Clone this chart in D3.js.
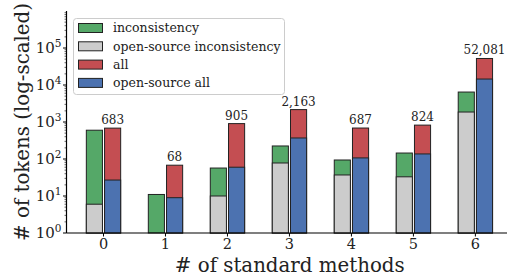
<!DOCTYPE html>
<html><head><meta charset="utf-8">
<script src="https://cdn.jsdelivr.net/npm/d3@7"></script>
<style>body{margin:0;background:#fff}svg{display:block}</style>
</head><body><svg id="c" width="510" height="279" font-family="'DejaVu Serif', 'Liberation Serif', serif"></svg>
<script>
const categories = [0, 1, 2, 3, 4, 5, 6];
const inconsistency = [600, 11, 57, 225, 94, 145, 6450];
const osInconsistency = [6, null, 10, 78, 37, 33, 1860];
const allTokens = [683, 68, 905, 2163, 687, 824, 52081];
const osAll = [27, 9, 60, 370, 107, 137, 14500];
const yTicks = [0, 1, 2, 3, 4, 5];
const legendLabels = ["inconsistency", "open-source inconsistency", "all", "open-source all"];
const colors = {green: "#55a868", gray: "#cccccc", red: "#c44e52", blue: "#4c72b0"};

const svg = d3.select("#c");
const L = 66.5, R = 507, T = 11, B = 233;
const x = d3.scaleLinear().domain([-0.597, 6.51]).range([L, R]);
const y = d3.scaleLog().domain([1, 1e6]).range([B, T]);
const bw = 0.26, off = 0.147;

function bars(vals, o, color) {
  svg.append("g").selectAll("rect").data(categories.filter((c, i) => vals[i] != null && vals[i] > 1))
    .join("rect")
    .attr("x", c => x(c + o - bw / 2))
    .attr("width", x(bw) - x(0))
    .attr("y", c => y(vals[c]))
    .attr("height", c => B - y(vals[c]))
    .attr("fill", color).attr("stroke", "#222").attr("stroke-width", 1);
}
bars(inconsistency, -off, colors.green);
bars(osInconsistency, -off, colors.gray);
bars(allTokens, off, colors.red);
bars(osAll, off, colors.blue);

// value labels
svg.append("g").selectAll("text").data(categories).join("text")
  .attr("x", c => x(c + off)).attr("y", c => y(allTokens[c]) - 4)
  .attr("text-anchor", "middle").attr("font-size", 12).attr("fill", "#222")
  .text(c => d3.format(",")(allTokens[c]));

// y axis
const ya = svg.append("g");
ya.append("line").attr("x1", L).attr("x2", L).attr("y1", T).attr("y2", B).attr("stroke", "#000").attr("stroke-width", 1.2);
for (let d = 0; d < 6; d++) {
  for (let m = 2; m <= 9; m++) {
    const v = m * Math.pow(10, d);
    if (y(v) < T) continue;
    ya.append("line").attr("x1", L - 2).attr("x2", L).attr("y1", y(v)).attr("y2", y(v)).attr("stroke", "#000").attr("stroke-width", 0.6);
  }
}
yTicks.forEach(e => {
  const yy = y(Math.pow(10, e));
  ya.append("line").attr("x1", L - 3.5).attr("x2", L).attr("y1", yy).attr("y2", yy).attr("stroke", "#000");
  const t = ya.append("text").attr("x", L - 5).attr("y", yy + 5).attr("text-anchor", "end").attr("font-size", 15).attr("fill", "#222");
  t.append("tspan").text("10");
  t.append("tspan").attr("dy", -6).attr("font-size", 10.5).text(e);
});

// x axis
const xa = svg.append("g");
xa.append("line").attr("x1", L).attr("x2", R).attr("y1", B).attr("y2", B).attr("stroke", "#000").attr("stroke-width", 1.2);
categories.forEach(c => {
  xa.append("line").attr("x1", x(c)).attr("x2", x(c)).attr("y1", B).attr("y2", B + 3.5).attr("stroke", "#000");
  xa.append("text").attr("x", x(c)).attr("y", B + 16).attr("text-anchor", "middle").attr("font-size", 14.5).attr("fill", "#222").text(c);
});

svg.append("text").attr("x", (L + R) / 2 + 3).attr("y", 271.5).attr("text-anchor", "middle").attr("font-size", 19.8).attr("fill", "#222").text("# of standard methods");
svg.append("text").attr("transform", `translate(29,${(T + B) / 2}) rotate(-90)`).attr("text-anchor", "middle").attr("font-size", 19.8).attr("fill", "#222").text("# of tokens (log-scaled)");

// legend
const lg = svg.append("g");
lg.append("rect").attr("x", 73.5).attr("y", 18.5).attr("width", 211).attr("height", 76).attr("rx", 3).attr("fill", "#fff").attr("fill-opacity", 0.8).attr("stroke", "#ccc");
const lc = [colors.green, colors.gray, colors.red, colors.blue];
legendLabels.forEach((lab, i) => {
  const cy = 28 + i * 18.3;
  lg.append("rect").attr("x", 78.5).attr("y", cy - 4.5).attr("width", 24).attr("height", 9).attr("fill", lc[i]).attr("stroke", "#222");
  lg.append("text").attr("x", 113).attr("y", cy + 4.2).attr("font-size", 12.5).attr("fill", "#222").text(lab);
});
</script></body></html>
